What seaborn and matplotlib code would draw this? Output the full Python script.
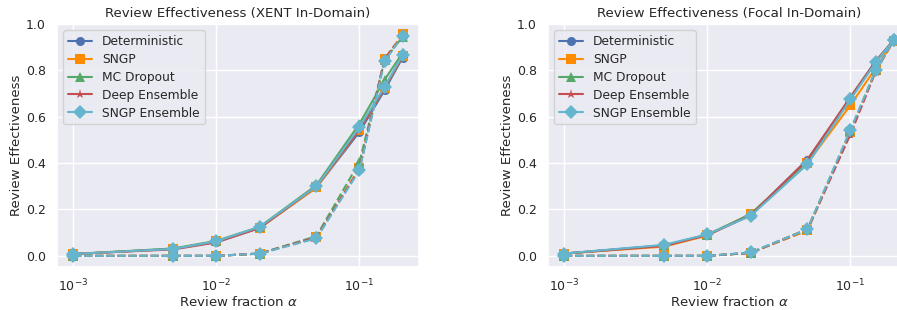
import matplotlib
matplotlib.use("Agg")
import matplotlib.pyplot as plt
import seaborn as sns

alphas = [0.001, 0.005, 0.01, 0.02, 0.05, 0.1, 0.15, 0.2]
methods = ['Deterministic', 'SNGP', 'MC Dropout', 'Deep Ensemble', 'SNGP Ensemble']
colors = ['#4c72b0', '#ff8c00', '#55a868', '#c44e52', '#64b5cd']
markers = ['o', 's', '^', '*', 'D']

# XENT in-domain: solid and dashed curves per method
xent_solid = [
    [0.008, 0.030, 0.060, 0.120, 0.295, 0.535, 0.715, 0.855],
    [0.008, 0.030, 0.062, 0.120, 0.295, 0.545, 0.725, 0.860],
    [0.008, 0.032, 0.065, 0.125, 0.305, 0.570, 0.760, 0.875],
    [0.008, 0.028, 0.058, 0.120, 0.300, 0.545, 0.725, 0.860],
    [0.008, 0.030, 0.063, 0.125, 0.300, 0.555, 0.730, 0.865],
]
xent_dashed = [
    [0.0, 0.0, 0.0, 0.010, 0.080, 0.375, 0.850, 0.950],
    [0.0, 0.0, 0.0, 0.010, 0.080, 0.380, 0.850, 0.955],
    [0.0, 0.0, 0.0, 0.010, 0.085, 0.405, 0.845, 0.945],
    [0.0, 0.0, 0.0, 0.010, 0.080, 0.375, 0.850, 0.950],
    [0.0, 0.0, 0.0, 0.010, 0.075, 0.370, 0.840, 0.950],
]

# Focal in-domain
focal_solid = [
    [0.010, 0.045, 0.090, 0.175, 0.415, 0.680, 0.835, 0.930],
    [0.010, 0.040, 0.088, 0.180, 0.400, 0.650, 0.810, 0.925],
    [0.010, 0.045, 0.092, 0.180, 0.405, 0.685, 0.840, 0.930],
    [0.010, 0.043, 0.090, 0.175, 0.415, 0.685, 0.840, 0.930],
    [0.010, 0.048, 0.093, 0.172, 0.395, 0.675, 0.835, 0.930],
]
focal_dashed = [
    [0.0, 0.0, 0.0, 0.013, 0.110, 0.530, 0.800, 0.930],
    [0.0, 0.0, 0.0, 0.013, 0.110, 0.535, 0.800, 0.925],
    [0.0, 0.0, 0.0, 0.013, 0.115, 0.540, 0.800, 0.930],
    [0.0, 0.0, 0.0, 0.013, 0.115, 0.525, 0.795, 0.930],
    [0.0, 0.0, 0.0, 0.015, 0.115, 0.545, 0.800, 0.930],
]

sns.set_theme(style='darkgrid')
plt.rcParams['font.family'] = ['DejaVu Sans']

fig = plt.figure(figsize=(8.97, 3.10), dpi=100)
ax1 = fig.add_axes([57 / 897, 43 / 310, 362 / 897, 243 / 310])
ax2 = fig.add_axes([548 / 897, 43 / 310, 362 / 897, 243 / 310])


def draw(ax, solid, dashed, title):
    for i, name in enumerate(methods):
        ms = 7.5 if markers[i] == 'D' else 6.5
        sns.lineplot(x=alphas, y=solid[i], ax=ax, color=colors[i], marker=markers[i],
                     markersize=ms, markeredgewidth=0, linewidth=1.5, label=name)
        sns.lineplot(x=alphas, y=dashed[i], ax=ax, color=colors[i], marker=markers[i],
                     markersize=ms, markeredgewidth=0, linewidth=1.5, linestyle='--')
    ax.set_xscale('log')
    ax.set_ylim(-0.048, 1.0)
    ax.set_title(title, fontsize=9.6, pad=5)
    ax.set_xlabel(r'Review fraction $\alpha$', fontsize=9.6, labelpad=0)
    ax.set_ylabel('Review Effectiveness', fontsize=9.6, labelpad=2)
    ax.tick_params(labelsize=9, pad=2)
    ax.legend(loc='upper left', fontsize=8.8, labelspacing=0.4)


draw(ax1, xent_solid, xent_dashed, 'Review Effectiveness (XENT In-Domain)')
draw(ax2, focal_solid, focal_dashed, 'Review Effectiveness (Focal In-Domain)')

fig.savefig('out.png', dpi=100)
